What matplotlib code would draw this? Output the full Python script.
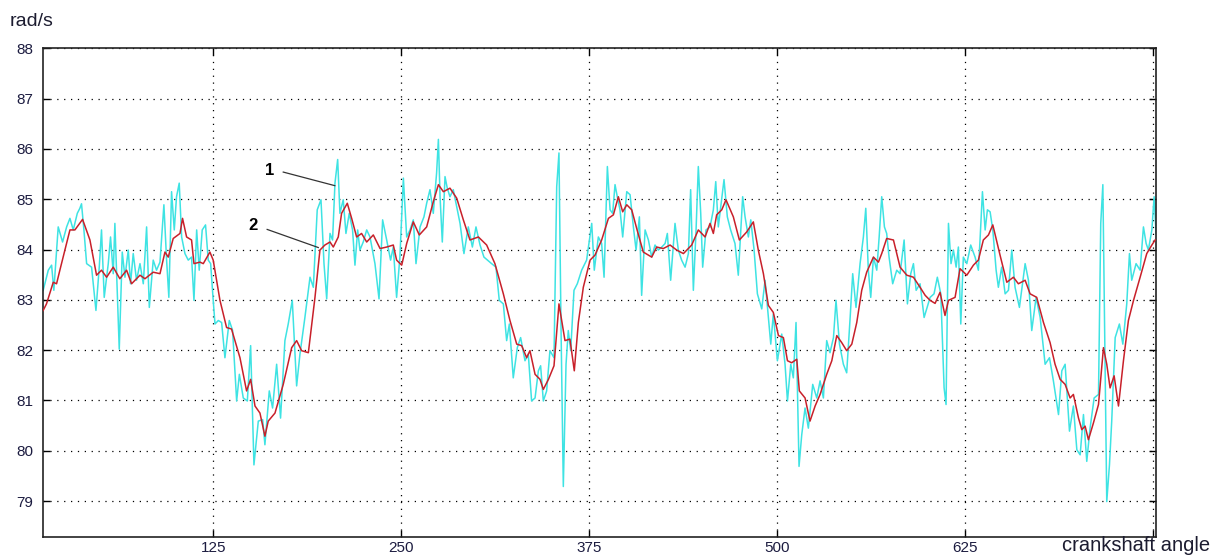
import matplotlib
matplotlib.use("Agg")
import matplotlib.pyplot as plt
from matplotlib.ticker import FixedLocator

# Measured angular speed of the crankshaft (curve 1) and its filtered version (curve 2)
angle_raw = [
    11.9, 15.3, 17.5, 19.0, 21.9, 24.8, 27.5, 29.7, 31.9, 34.6, 36.3, 37.4, 39.0, 40.8,
    44.1, 47.0, 49.2, 50.7, 52.5, 55.2, 56.7, 58.5, 59.6, 62.5, 64.5, 66.3, 68.5, 70.0,
    71.8, 74.0, 76.3, 78.5, 80.7, 82.5, 85.1, 87.3, 89.6, 92.2, 94.0, 95.5, 97.3, 99.1,
    100.6, 102.4, 104.0, 106.2, 108.4, 110.6, 112.2, 114.0, 115.7, 117.7, 119.9, 121.7,
    123.3, 125.0, 126.2, 128.4, 130.6, 132.8, 135.7, 137.9, 140.6, 142.4, 145.0, 147.7,
    149.9, 152.1, 155.0, 157.9,
    159.4, 162.3, 164.5, 167.2, 169.8, 172.7, 174.9, 177.6, 180.5, 182.7, 186.0, 189.4,
    191.6, 194.2, 196.7, 198.7, 200.5, 202.7, 204.4, 206.0, 207.8, 209.3, 211.5, 213.3,
    215.5, 217.7, 219.3, 221.1, 222.6, 224.8, 227.1, 229.3, 232.6, 235.3, 237.7, 240.4,
    243.0, 244.8, 247.0, 249.2, 251.5, 253.7, 255.9, 258.1, 259.9, 262.6, 265.2, 267.0,
    269.2, 271.4, 273.6, 274.8, 275.9, 277.4, 279.2, 280.7, 282.5, 284.7, 287.0, 289.2,
    291.8, 294.7, 297.4, 299.8, 302.5, 305.1,
    310.2, 313.1, 315.3, 318.0, 320.2, 322.0, 324.6, 327.3, 329.5, 332.4, 334.6, 336.8,
    339.1, 341.3, 342.8, 344.6, 346.8, 349.0, 351.7, 353.5, 355.0, 356.4, 357.9, 359.7,
    361.2, 362.8, 365.0, 367.2, 370.1, 373.4, 376.8, 378.5, 381.2, 383.4, 385.0, 387.2,
    389.0, 390.7, 392.3, 393.8, 395.6, 397.4, 400.1, 402.3, 404.5, 406.3, 408.5, 410.0,
    412.3, 414.5, 416.7, 418.9, 421.1, 423.4, 425.6, 427.1, 429.3, 432.2, 434.4, 436.6,
    438.9, 441.1, 442.6, 444.4, 446.2, 447.7, 449.3, 450.6,
    452.8, 455.5, 457.7, 459.3, 461.0, 462.6, 464.8, 467.0, 469.2, 472.1, 474.3, 477.2,
    478.8, 481.0, 482.6, 484.8, 487.0, 489.9, 492.1, 494.3, 495.9, 497.6, 500.3, 503.2,
    505.4, 507.0, 509.2, 510.9, 512.7, 514.7, 516.5, 518.7, 520.9, 523.8, 526.5, 528.7,
    530.9, 533.1, 535.3, 537.6, 539.3, 541.6, 544.2, 546.4, 548.7, 550.4, 552.6, 555.3,
    557.5, 559.1, 560.8, 562.4, 564.2, 566.4, 568.0, 569.7, 571.5, 573.0, 574.6, 577.0,
    579.7, 581.9, 584.6, 586.8, 589.0, 590.8, 592.6, 595.2, 597.9,
    601.9, 604.5, 606.7, 609.0, 611.2, 612.5, 614.1, 615.8, 617.4, 619.2, 620.7, 622.3,
    624.0, 626.3, 628.9, 631.8, 634.0, 635.1, 636.7, 638.5, 640.0, 641.8, 643.6, 645.8,
    647.3, 649.5, 651.8, 654.0, 656.2, 658.4, 661.3, 665.1, 667.3, 669.5, 672.4, 675.1,
    678.4, 681.3, 683.9, 687.3, 689.5, 691.7, 694.6, 697.2, 699.5, 701.7, 703.9, 706.1,
    708.3, 711.0, 713.9, 715.4, 716.8, 718.1, 719.4, 721.2, 722.7, 725.0, 727.8, 730.1,
    732.7, 734.5, 736.0, 738.9, 741.6, 743.8, 745.6, 747.1, 749.4, 750.9, 752.2,
]
speed_raw = [
    83.19, 83.59, 83.69, 83.19, 84.45, 84.15, 84.45, 84.62, 84.39, 84.72, 84.82, 84.91, 84.39, 83.72,
    83.65, 82.79, 83.65, 84.39, 83.05, 83.72, 84.25, 83.52, 84.52, 82.02, 83.95, 83.45, 83.99, 83.32,
    83.92, 83.39, 83.72, 83.32, 84.45, 82.85, 83.79, 83.59, 83.75, 84.89, 83.79, 83.05, 85.15, 84.39,
    85.05, 85.32, 84.25, 83.92, 83.79, 83.85, 82.99, 84.39, 83.59, 84.39, 84.49, 83.79,
    83.72, 82.99, 82.52, 82.59, 82.55, 81.85, 82.59, 82.39, 80.99, 81.52, 81.05, 80.99,
    82.09, 79.72, 80.59, 80.62,
    80.12, 81.19, 80.85, 81.72, 80.65, 82.19, 82.52, 82.99, 81.29, 81.92, 82.65, 83.45,
    83.25, 84.79, 84.99, 83.72, 83.02, 84.32, 84.19, 85.32, 85.79, 84.72, 84.99, 84.32,
    84.72, 84.39, 83.69, 84.39, 83.99, 84.15, 84.39, 84.25, 83.72, 83.02, 84.59, 84.19,
    83.79, 84.05, 83.05, 83.85, 85.42, 84.25, 84.39, 84.59, 83.72, 84.45, 84.65, 84.92,
    85.19, 84.72, 85.52, 86.19, 85.05, 84.15, 85.45, 85.22, 85.05, 85.19, 84.85, 84.52,
    83.92, 84.45, 84.05, 84.45, 84.09, 83.85,
    83.72, 83.65, 82.99, 82.92, 82.19, 82.52, 81.45, 82.05, 82.25, 81.79, 81.92, 80.99,
    81.05, 81.59, 81.69, 80.99, 81.19, 81.99, 81.85, 85.25, 85.92, 82.39, 79.29, 81.72,
    82.39, 81.99, 83.19, 83.32, 83.59, 83.79, 84.52, 83.59, 84.25, 84.12, 83.45, 85.65,
    84.79, 84.72, 85.29, 85.05, 84.79, 84.25, 85.15, 85.09, 84.45, 83.99, 84.65, 83.09,
    84.39, 84.19, 83.85, 84.09, 83.99, 84.05, 84.12, 84.32, 83.39, 84.52, 83.99, 83.79,
    83.65, 83.92, 85.19, 83.19, 84.39, 85.65, 84.72, 83.65,
    84.39, 84.45, 84.79, 85.35, 84.45, 84.85, 85.39, 84.65, 84.39, 84.12, 83.49, 85.05,
    84.65, 84.25, 84.59, 83.99, 83.12, 82.82, 83.39, 82.65, 82.12, 82.72, 81.79, 82.32,
    81.72, 80.99, 81.72, 81.45, 82.55, 79.69, 80.32, 80.85, 80.45, 81.32, 81.05, 81.39,
    81.05, 82.19, 81.95, 82.25, 82.99, 82.12, 81.72, 81.55, 82.65, 83.52, 82.85, 83.72,
    84.25, 84.82, 83.59, 83.05, 83.85, 83.59, 84.25, 85.05, 84.45, 84.32, 83.85, 83.32,
    83.59, 83.52, 84.19, 82.92, 83.52, 83.72, 83.19, 83.32, 82.65,
    83.05, 83.12, 83.45, 83.12, 81.25, 80.92, 84.52, 83.72, 83.99, 83.65, 84.05, 82.52,
    83.85, 83.72, 84.09, 83.85, 83.59, 84.19, 85.15, 84.39, 84.79, 84.75, 84.39, 83.59,
    83.25, 83.65, 83.12, 83.19, 83.99, 83.25, 82.85, 83.72, 83.39, 82.39, 83.05, 82.65,
    81.72, 81.85, 81.39, 80.72, 81.59, 81.72, 80.39, 80.89, 80.02, 79.92, 80.72, 79.79,
    80.45, 81.05, 81.12, 84.52, 85.29, 82.05, 78.99, 79.72, 80.59, 82.25, 82.52, 82.12,
    82.92, 83.92, 83.39, 83.72, 83.59, 84.45, 84.12, 83.99, 84.39, 85.05, 84.32,
]

angle_filt = [
    11.9, 14.1, 18.6, 20.8, 23.0, 29.7, 33.0, 38.1, 43.0, 47.4, 50.7, 54.1, 58.5, 62.9,
    67.4, 70.7, 76.3, 79.6, 85.1, 89.6, 92.9, 95.1, 98.4, 102.9, 104.6, 107.3, 110.6,
    112.2, 116.2, 118.4, 122.8, 125.0, 129.5, 133.9, 137.2, 142.8, 147.2, 149.9, 152.8,
    156.1, 159.4, 161.6, 166.1, 171.6, 177.2, 180.5, 183.8, 188.3, 192.7, 196.0, 199.3,
    202.7, 204.9, 208.2, 210.4, 214.2, 217.1, 220.4, 223.7, 227.1, 231.5, 236.0, 240.4,
    244.8, 247.0, 250.4, 253.7, 258.1, 262.1, 267.0, 271.4, 274.8, 278.1, 282.5, 287.0,
    291.4, 295.8, 301.4,
    306.9, 312.4, 318.0, 322.4, 326.9, 330.2, 333.5, 335.7, 339.1, 342.4, 344.6, 348.0,
    351.7, 355.0, 359.0, 362.3, 365.2, 367.9, 371.2, 375.7, 379.0, 383.4, 387.9, 391.2,
    394.5, 397.4, 400.1, 403.4, 406.7, 411.1, 416.7, 420.0, 424.4, 428.9, 433.3, 437.8,
    443.3, 447.7,
    452.2, 455.5, 457.7, 459.9, 463.3, 466.1, 471.0, 475.0, 479.9, 484.3, 487.6, 491.0,
    494.3, 497.6, 501.0, 504.3, 507.0, 509.8, 513.2, 514.9, 518.7, 522.0, 525.4, 528.7,
    533.1, 536.5, 539.8, 543.1, 546.4, 549.8, 553.1, 556.4, 559.7, 564.2, 567.5, 569.7,
    573.0, 577.5, 581.9, 586.4, 590.8, 595.2, 598.6,
    601.9, 605.2, 608.5, 611.8, 614.1, 618.5, 621.8, 626.3, 630.7, 634.0, 637.3, 640.7,
    643.6, 648.4, 652.9, 657.3, 660.6, 665.1, 668.4, 672.8, 677.3, 681.7, 685.0, 688.4,
    691.7, 695.0, 697.2, 700.6, 702.8, 705.0, 707.2, 710.5, 713.9, 717.2, 719.4, 721.6,
    724.3, 727.2, 730.5, 733.8, 737.2, 741.6, 746.0, 749.4, 751.6,
]
speed_filt = [
    82.79, 82.92, 83.35, 83.32, 83.59, 84.39, 84.39, 84.60, 84.19, 83.49, 83.59, 83.45, 83.65, 83.42,
    83.59, 83.32, 83.49, 83.42, 83.55, 83.52, 83.95, 83.85, 84.22, 84.32, 84.62, 84.25, 84.19,
    83.72, 83.75, 83.72, 83.95, 83.79, 82.99, 82.45, 82.42, 81.85, 81.19, 81.42, 80.89,
    80.75, 80.29, 80.59, 80.75, 81.32, 82.05, 82.19, 81.99, 81.95, 83.05, 83.99, 84.09,
    84.15, 84.05, 84.25, 84.72, 84.92, 84.62, 84.25, 84.32, 84.15, 84.29, 84.02, 84.05,
    84.09, 83.79, 83.69, 84.12, 84.55, 84.29, 84.45, 84.95, 85.29, 85.15, 85.22, 85.02,
    84.59, 84.19, 84.25,
    84.09, 83.72, 83.12, 82.59, 82.12, 82.09, 81.85, 81.99, 81.52, 81.42, 81.22, 81.42,
    81.69, 82.92, 82.19, 82.22, 81.59, 82.55, 83.25, 83.79, 83.89, 84.19, 84.62, 84.69,
    85.05, 84.75, 84.89, 84.79, 84.42, 83.95, 83.85, 84.05, 84.02, 84.09, 83.99, 83.92,
    84.09, 84.39,
    84.25, 84.52, 84.32, 84.69, 84.79, 84.99, 84.65, 84.19, 84.35, 84.55, 83.99, 83.52,
    82.89, 82.75, 82.29, 82.25, 81.79, 81.75, 81.82, 81.19, 81.05, 80.59, 80.89, 81.12,
    81.52, 81.79, 82.29, 82.15, 81.99, 82.12, 82.55, 83.19, 83.55, 83.85, 83.75, 83.92,
    84.22, 84.19, 83.65, 83.49, 83.45, 83.25, 83.09,
    82.99, 82.93, 83.15, 82.69, 82.99, 83.05, 83.62, 83.49, 83.69, 83.79, 84.19, 84.29,
    84.49, 83.89, 83.35, 83.45, 83.32, 83.39, 83.12, 83.05, 82.55, 82.15, 81.72, 81.42,
    81.32, 81.05, 81.12, 80.65, 80.42, 80.49, 80.22, 80.55, 80.92, 82.05, 81.72, 81.25,
    81.49, 80.89, 81.79, 82.59, 82.99, 83.45, 83.92, 84.09, 84.19,
]

x_ticks = [125, 250, 375, 500, 625, 750]
x_tick_labels = ["125", "250", "375", "500", "625", ""]
y_ticks = [79, 80, 81, 82, 83, 84, 85, 86, 87, 88]
y_tick_labels = [str(v) for v in y_ticks]

plt.rcParams["font.family"] = ["Liberation Sans", "DejaVu Sans"]

fig = plt.figure(figsize=(12.24, 5.56), dpi=100)
ax = fig.add_axes([0.0354, 0.0336, 0.9091, 0.8795])

ax.plot(angle_raw, speed_raw, color="#3ee3e3", linewidth=1.1, zorder=2)
ax.plot(angle_filt, speed_filt, color="#c8202a", linewidth=1.1, zorder=3)

ax.set_xlim(12, 752.2)
ax.set_ylim(78.28, 88)

ax.xaxis.set_major_locator(FixedLocator(x_ticks))
ax.set_xticklabels(x_tick_labels)
ax.yaxis.set_major_locator(FixedLocator(y_ticks))
ax.set_yticklabels(y_tick_labels)

ax.grid(True, color="black", linestyle=(0, (1, 4.5)), linewidth=0.9)
ax.tick_params(axis="both", direction="in", length=5, width=1.0,
               top=True, right=True, labelsize=11, labelcolor="#1c1c40")
ax.tick_params(axis="x", pad=3)
ax.tick_params(axis="y", pad=7)
for sp in ax.spines.values():
    sp.set_linewidth(1.2)
    sp.set_color("#222222")

# Curve labels with leader lines
ax.text(162.7, 85.57, "1", fontsize=12, fontweight="bold", ha="center", va="center")
ax.plot([171.6, 205.9], [85.54, 85.27], color="#333333", linewidth=0.9, zorder=4)
ax.text(151.6, 84.47, "2", fontsize=12, fontweight="bold", ha="center", va="center")
ax.plot([160.9, 194.9], [84.40, 84.04], color="#333333", linewidth=0.9, zorder=4)

fig.text(10 / 1224, 1 - 21 / 556, "rad/s", fontsize=14, color="#1c1c30",
         ha="left", va="center")
fig.text(1062 / 1224, 1 - 551 / 556, "crankshaft angle", fontsize=14.5,
         color="#1c1c30", ha="left", va="baseline")

fig.savefig("out.png", dpi=100)
